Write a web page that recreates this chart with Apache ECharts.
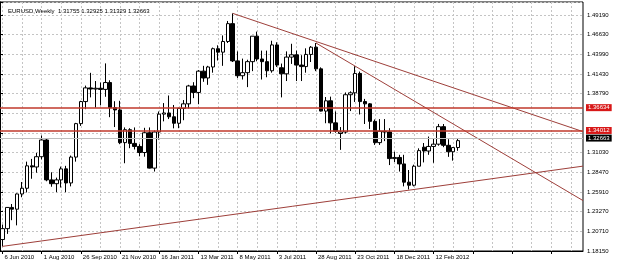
<!DOCTYPE html>
<html>
<head>
<meta charset="utf-8">
<title>EURUSD Weekly</title>
<script src="https://cdn.jsdelivr.net/npm/echarts@6/dist/echarts.min.js"></script>
<style>
  html, body { margin: 0; padding: 0; background: #fff; }
  #chart { width: 625px; height: 266px; }
</style>
</head>
<body>
<div id="chart"></div>
<script>
// weekly bars, one per row of 8
const weeks = [
  '6 Jun 2010','13 Jun 2010','20 Jun 2010','27 Jun 2010','4 Jul 2010','11 Jul 2010','18 Jul 2010','25 Jul 2010',
  '1 Aug 2010','8 Aug 2010','15 Aug 2010','22 Aug 2010','29 Aug 2010','5 Sep 2010','12 Sep 2010','19 Sep 2010',
  '26 Sep 2010','3 Oct 2010','10 Oct 2010','17 Oct 2010','24 Oct 2010','31 Oct 2010','7 Nov 2010','14 Nov 2010',
  '21 Nov 2010','28 Nov 2010','5 Dec 2010','12 Dec 2010','19 Dec 2010','26 Dec 2010','2 Jan 2011','9 Jan 2011',
  '16 Jan 2011','23 Jan 2011','30 Jan 2011','6 Feb 2011','13 Feb 2011','20 Feb 2011','27 Feb 2011','6 Mar 2011',
  '13 Mar 2011','20 Mar 2011','27 Mar 2011','3 Apr 2011','10 Apr 2011','17 Apr 2011','24 Apr 2011','1 May 2011',
  '8 May 2011','15 May 2011','22 May 2011','29 May 2011','5 Jun 2011','12 Jun 2011','19 Jun 2011','26 Jun 2011',
  '3 Jul 2011','10 Jul 2011','17 Jul 2011','24 Jul 2011','31 Jul 2011','7 Aug 2011','14 Aug 2011','21 Aug 2011',
  '28 Aug 2011','4 Sep 2011','11 Sep 2011','18 Sep 2011','25 Sep 2011','2 Oct 2011','9 Oct 2011','16 Oct 2011',
  '23 Oct 2011','30 Oct 2011','6 Nov 2011','13 Nov 2011','20 Nov 2011','27 Nov 2011','4 Dec 2011','11 Dec 2011',
  '18 Dec 2011','25 Dec 2011','1 Jan 2012','8 Jan 2012','15 Jan 2012','22 Jan 2012','29 Jan 2012','5 Feb 2012',
  '12 Feb 2012','19 Feb 2012','26 Feb 2012','4 Mar 2012','11 Mar 2012','18 Mar 2012'
];

const opens = [
  1.1966,1.2109,1.2388,1.2365,1.2565,1.2640,1.2935,1.2920,
  1.3055,1.3275,1.2750,1.2700,1.2750,1.2895,1.2710,1.3050,
  1.3490,1.3780,1.3960,1.3945,1.3955,1.3940,1.4030,1.3700,
  1.3670,1.3240,1.3410,1.3230,1.3190,1.3110,1.3370,1.2905,
  1.3380,1.3615,1.3630,1.3580,1.3495,1.3690,1.3750,1.3985,
  1.3900,1.4180,1.4090,1.4235,1.4475,1.4430,1.4570,1.4805,
  1.4315,1.4120,1.4160,1.4305,1.4640,1.4340,1.4305,1.4185,
  1.4525,1.4225,1.4145,1.4365,1.4395,1.4260,1.4240,1.4400,
  1.4495,1.4210,1.3655,1.3790,1.3500,1.3360,1.3380,1.3870,
  1.3895,1.4150,1.3780,1.3750,1.3520,1.3240,1.3390,1.3380,
  1.3030,1.3045,1.2960,1.2720,1.2680,1.2930,1.3180,1.3130,
  1.3190,1.3220,1.3450,1.3205,1.3120,1.31755
];
const highs = [
  1.2163,1.2391,1.2433,1.2572,1.2722,1.2990,1.3026,1.3105,
  1.3333,1.3290,1.2850,1.2780,1.2925,1.2935,1.3070,1.3500,
  1.3790,1.3990,1.4158,1.4050,1.4030,1.4282,1.4060,1.3785,
  1.3790,1.3440,1.3430,1.3440,1.3220,1.3435,1.3440,1.3400,
  1.3650,1.3760,1.3860,1.3735,1.3700,1.3800,1.4000,1.4035,
  1.4195,1.4250,1.4250,1.4490,1.4520,1.4650,1.4840,1.4940,
  1.4440,1.4345,1.4330,1.4640,1.4700,1.4450,1.4450,1.4580,
  1.4560,1.4280,1.4440,1.4540,1.4450,1.4390,1.4480,1.4510,
  1.4550,1.4230,1.3840,1.3845,1.3650,1.3445,1.3900,1.3915,
  1.4245,1.4175,1.3815,1.3760,1.3545,1.3550,1.3550,1.3430,
  1.3120,1.3080,1.3080,1.2880,1.2950,1.3165,1.3235,1.3320,
  1.3290,1.3486,1.3485,1.3285,1.3180,1.32925
];
const lows = [
  1.1876,1.2040,1.2220,1.2152,1.2522,1.2585,1.2765,1.2845,
  1.3020,1.2732,1.2660,1.2589,1.2650,1.2588,1.2665,1.2990,
  1.3460,1.3680,1.3835,1.3700,1.3730,1.3843,1.3575,1.3445,
  1.3220,1.2969,1.3167,1.3150,1.3060,1.3055,1.2900,1.2860,
  1.3280,1.3520,1.3550,1.3428,1.3430,1.3535,1.3690,1.3825,
  1.3745,1.4040,1.4000,1.4160,1.4320,1.4250,1.4550,1.4300,
  1.4090,1.4070,1.3970,1.4180,1.4310,1.4070,1.4100,1.4160,
  1.4235,1.3835,1.4050,1.4275,1.4050,1.4050,1.4160,1.4300,
  1.4180,1.3650,1.3495,1.3360,1.3370,1.3145,1.3360,1.3655,
  1.3775,1.3610,1.3485,1.3420,1.3210,1.3210,1.3260,1.2945,
  1.2985,1.2860,1.2665,1.2624,1.2665,1.2930,1.2980,1.3080,
  1.2975,1.3200,1.3180,1.3053,1.3003,1.31329
];
const closes = [
  1.2109,1.2388,1.2365,1.2565,1.2640,1.2935,1.2920,1.3055,
  1.3275,1.2750,1.2700,1.2750,1.2895,1.2710,1.3050,1.3490,
  1.3780,1.3960,1.3945,1.3955,1.3940,1.4030,1.3700,1.3670,
  1.3240,1.3410,1.3230,1.3190,1.3110,1.3370,1.2905,1.3380,
  1.3615,1.3630,1.3580,1.3495,1.3690,1.3750,1.3985,1.3900,
  1.4180,1.4090,1.4235,1.4475,1.4430,1.4570,1.4805,1.4315,
  1.4120,1.4160,1.4305,1.4640,1.4340,1.4305,1.4185,1.4525,
  1.4260,1.4145,1.4365,1.4395,1.4260,1.4240,1.4400,1.4495,
  1.4210,1.3655,1.3790,1.3500,1.3390,1.3380,1.3870,1.3895,
  1.4150,1.3780,1.3750,1.3520,1.3240,1.3390,1.3380,1.3030,
  1.3045,1.2960,1.2720,1.2680,1.2930,1.3135,1.3130,1.3190,
  1.3220,1.3450,1.3205,1.3120,1.3175,1.32663
];

// empty weeks to the right of the last bar
const emptyWeeks = 25;

// price scale
const yMin = 1.1815;
const yMax = 1.50894;
const yStep = 0.02587;
const priceTicks = ['1.18150','1.20710','1.23270','1.25910','1.28470','1.31030','','','1.38790','1.41430','1.43990','1.46630','1.49190'];

// horizontal levels and bid
const levels = [1.36634, 1.34012];
const bid = 1.32663;

// trend lines, [bar position, price] (bar i centre = i + 0.5)
const lowerTrend = [[0.5, 1.1876], [119, 1.2931]];
const upperTrend = [[47.5, 1.4940], [119, 1.3385]];
const steepTrend = [[64.5, 1.4550], [119, 1.2478]];

let slots = weeks.slice();
for (let k = 0; k < emptyWeeks; k++) slots.push('#' + k);

let candles = weeks.map((w, i) => [opens[i], closes[i], lows[i], highs[i]]);

const last = weeks.length - 1;
const header = 'EURUSD,Weekly  ' + [opens[last], highs[last], lows[last], closes[last]].map(v => v.toFixed(5)).join(' ');

const font = 'Liberation Sans';
const gridLine = { color: '#c4c4c4', width: 1, type: [2, 2] };

function levelLine(value, bg, lineColor, width) {
  return {
    yAxis: value,
    lineStyle: { color: lineColor, width: width, type: 'solid', opacity: 1 },
    label: {
      show: true, position: 'end', distance: 3,
      formatter: () => value.toFixed(5),
      backgroundColor: bg, color: '#fff',
      fontSize: 6, fontFamily: font, padding: [1, 2, 0, 2]
    }
  };
}

function trendSeries(pts) {
  return {
    type: 'line', xAxisIndex: 1, yAxisIndex: 0,
    data: pts, symbol: 'none', silent: true, clip: true, z: 3,
    lineStyle: { color: '#9e3f3a', width: 1 }
  };
}

let chart = echarts.init(document.getElementById('chart'));
chart.setOption({
  animation: false,
  backgroundColor: '#fff',
  title: {
    text: header, left: 3, top: 3,
    textStyle: { fontSize: 6, fontWeight: 'normal', color: '#000', fontFamily: font }
  },
  grid: {
    left: 0, right: 42, top: 2, bottom: 15,
    show: true, borderColor: '#000', borderWidth: 1,
    containLabel: false, outerBoundsMode: 'none'
  },
  xAxis: [{
    type: 'category', data: slots, boundaryGap: true,
    axisLine: { lineStyle: { color: '#000' } },
    axisTick: { show: true, interval: 7, alignWithLabel: true, length: 3, lineStyle: { color: '#000' } },
    axisLabel: {
      interval: 7, align: 'left', margin: 3, padding: [0, 0, 0, 2],
      fontSize: 6, fontFamily: font, color: '#000',
      formatter: (v, i) => (i < weeks.length ? v : '')
    },
    splitLine: { show: true, interval: 3, alignWithLabel: true, lineStyle: gridLine }
  }, {
    type: 'value', min: 0, max: slots.length, show: false
  }],
  yAxis: {
    type: 'value', position: 'right', scale: true,
    min: yMin, max: yMax, interval: yStep,
    axisLine: { show: true, lineStyle: { color: '#000' } },
    axisTick: { show: true, length: 3, lineStyle: { color: '#000' } },
    axisLabel: {
      margin: 4, fontSize: 6, fontFamily: font, color: '#000',
      formatter: v => {
        const f = (v - yMin) / yStep;
        const k = Math.round(f);
        return Math.abs(f - k) < 0.02 ? (priceTicks[k] || '') : '';
      }
    },
    splitLine: { show: true, lineStyle: gridLine }
  },
  series: [{
    type: 'candlestick',
    xAxisIndex: 0, yAxisIndex: 0,
    data: candles,
    barWidth: 4,
    itemStyle: {
      color: '#fff', color0: '#000',
      borderColor: '#000', borderColor0: '#000', borderColorDoji: '#000',
      borderWidth: 1
    },
    markLine: {
      silent: true, symbol: ['none', 'none'], animation: false,
      data: [
        levelLine(levels[0], '#d81818', '#c0392b', 1.5),
        levelLine(levels[1], '#d81818', '#c0392b', 1.5),
        levelLine(bid, '#000', '#bdbdbd', 1)
      ]
    }
  },
  trendSeries(lowerTrend),
  trendSeries(upperTrend),
  trendSeries(steepTrend)]
});
</script>
</body>
</html>
